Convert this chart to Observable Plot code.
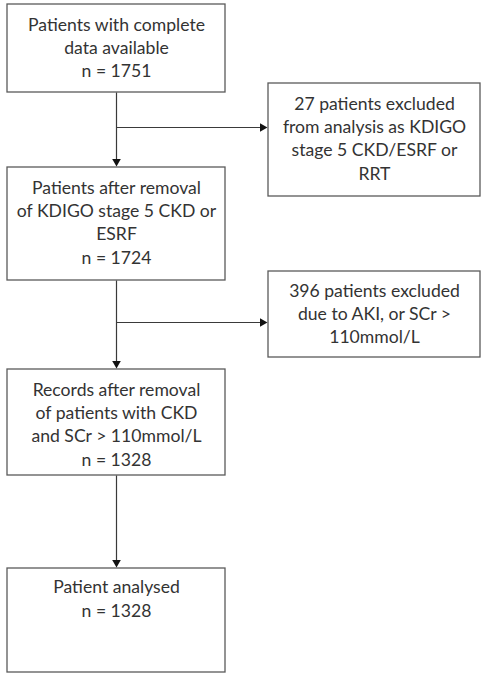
<!DOCTYPE html>
<html><head><meta charset="utf-8">
<script src="https://cdn.jsdelivr.net/npm/d3@7"></script>
<script src="https://cdn.jsdelivr.net/npm/@observablehq/plot@0.6"></script>
<style>html,body{margin:0;padding:0;background:#fff} svg{display:block}</style>
</head><body><div id="chart"></div>
<script>
// ---- content ----
const stageLabels = [
  "Patients with complete\ndata available",
  "Patients after removal\nof KDIGO stage 5 CKD or\nESRF",
  "Records after removal\nof patients with CKD\nand SCr > 110mmol/L",
  "Patient analysed"
];
const stageCounts = [1751, 1724, 1328, 1328];
const exclusionCounts = [27, 396];
const exclusionLabels = [
  "patients excluded\nfrom analysis as KDIGO\nstage 5 CKD/ESRF or\nRRT",
  "patients excluded\ndue to AKI, or SCr >\n110mmol/L"
];

// ---- layout (diagram units) ----
const mainCol = [7, 225];
const sideCol = [268, 480];
const mainRows = [[4, 92], [167, 280], [369, 475], [568, 672]];
const sideRows = [[83, 196], [271, 357]];
const branchY = [127, 322];
const lineStep = 23.4, topPad = 20.5, headLen = 9;

const boxes = [
  ...mainRows.map(([y1, y2]) => ({x1: mainCol[0], x2: mainCol[1], y1, y2})),
  ...sideRows.map(([y1, y2]) => ({x1: sideCol[0], x2: sideCol[1], y1, y2}))
];

const texts = [];
stageLabels.forEach((lab, i) => {
  const lines = [...lab.split("\n"), `n = ${stageCounts[i]}`];
  const cx = (mainCol[0] + mainCol[1]) / 2;
  const pad = i === 3 ? 19 : topPad;
  lines.forEach((t, j) => texts.push({x: cx, y: mainRows[i][0] + pad + j * lineStep, t}));
});
exclusionLabels.forEach((lab, i) => {
  const lines = lab.split("\n");
  lines[0] = `${exclusionCounts[i]} ${lines[0]}`;
  const cx = (sideCol[0] + sideCol[1]) / 2;
  lines.forEach((t, j) => texts.push({x: cx, y: sideRows[i][0] + (i === 1 ? 19.5 : topPad) + j * lineStep, t}));
});

const cx = (mainCol[0] + mainCol[1]) / 2;
const links = [];
const heads = [];
for (let i = 0; i < mainRows.length - 1; i++) {
  const yStart = mainRows[i][1], yTip = mainRows[i + 1][0];
  links.push({x1: cx, y1: yStart, x2: cx, y2: yTip - headLen + 1});
  heads.push({x: cx, y: yTip - headLen * 2 / 3, r: 180});
}
branchY.forEach(y => {
  links.push({x1: cx, y1: y, x2: sideCol[0] - headLen + 1, y2: y});
  heads.push({x: sideCol[0] - headLen * 2 / 3, y, r: 90});
});

const chart = Plot.plot({
  width: 483, height: 673,
  margin: 0,
  x: {domain: [0, 483], range: [0, 483], axis: null},
  y: {domain: [0, 673], range: [0, 673], axis: null},
  style: {background: "#fff"},
  marks: [
    Plot.rect(boxes, {x1: "x1", x2: "x2", y1: "y1", y2: "y2", fill: "#fff", stroke: "#5a5a5a", strokeWidth: 1.3}),
    Plot.link(links, {x1: "x1", y1: "y1", x2: "x2", y2: "y2", stroke: "#3a3a3a", strokeWidth: 1.2}),
    Plot.dot(heads, {x: "x", y: "y", rotate: "r", symbol: "triangle2", r: 4.1, fill: "#111", stroke: "none"}),
    Plot.text(texts, {x: "x", y: "y", text: "t", fontSize: 17.6, fontFamily: "Lato", fill: "#333", textAnchor: "middle", lineAnchor: "middle"})
  ]
});
document.getElementById("chart").append(chart);
</script>
</body></html>
